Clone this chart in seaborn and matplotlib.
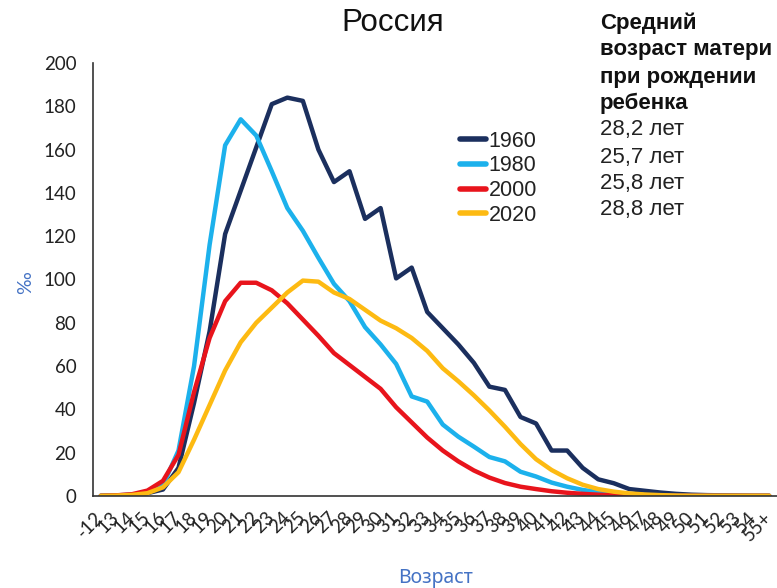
import numpy as np
import pandas as pd
import matplotlib
matplotlib.use("Agg")
import matplotlib.pyplot as plt
import seaborn as sns

# ---- data ----
age_labels = ["-12"] + [str(a) for a in range(13, 55)] + ["55+"]

v1960 = [0.1, 0.3, 0.6, 1.3, 3, 13, 43, 76, 121, 141, 161, 181, 184, 182.5, 160, 145,
         150, 128, 133, 100.5, 105.5, 85, 77.5, 70, 61.5, 50.5, 49, 36.5, 33.5, 21, 21,
         13, 7.7, 5.9, 3.2, 2.4, 1.6, 1.0, 0.6, 0.4, 0.3, 0.2, 0.1, 0.1]
v1980 = [0.1, 0.2, 0.5, 1.5, 5, 21, 60, 116, 162, 174, 166.5, 150, 133, 122.5, 110, 98,
         90, 78, 70, 61, 46, 43.6, 33, 27.4, 22.8, 18, 16, 11.2, 9, 6.2, 4.3, 2.8, 1.8,
         1.0, 0.6, 0.4, 0.2, 0.1, 0.1, 0.1, 0.1, 0.1, 0.1, 0.1]
v2000 = [0.1, 0.3, 0.8, 2.5, 7, 19, 48, 73, 90, 98.5, 98.5, 95, 89, 81.5, 74, 66, 60.5,
         55, 49.5, 41, 34, 27, 21, 16, 11.8, 8.5, 6, 4.3, 3.2, 2.2, 1.5, 1.0, 0.6, 0.4,
         0.2, 0.1, 0.1, 0.1, 0.1, 0.1, 0.1, 0.1, 0.1, 0.1]
v2020 = [0.1, 0.2, 0.5, 1.3, 4, 11, 26, 42, 58, 71, 80, 87, 94, 99.5, 99, 94, 91, 86,
         81, 77.5, 73, 67, 59, 53, 46.5, 39.5, 32, 24, 17, 12, 8.2, 5.2, 3.2, 2, 1.2,
         0.7, 0.4, 0.2, 0.1, 0.1, 0.1, 0.1, 0.1, 0.1]
years = ["1960", "1980", "2000", "2020"]
mean_age = ["28,2 лет", "25,7 лет", "25,8 лет", "28,8 лет"]
yticks = list(range(0, 201, 20))

colors = {"1960": "#1B2F5E", "1980": "#1CB1EC", "2000": "#E8141C", "2020": "#FDBA12"}

rows = []
for yr, vals in zip(years, [v1960, v1980, v2000, v2020]):
    for i, v in enumerate(vals):
        rows.append({"idx": i, "val": v, "year": yr})
df = pd.DataFrame(rows)

sns.set_theme(style="white")
plt.rcParams["font.family"] = ["Liberation Sans", "DejaVu Sans"]

fig = plt.figure(figsize=(7.77, 5.88), dpi=100)
ax = fig.add_axes([93 / 777, 1 - 496 / 588, (777 - 93) / 777, (496 - 63) / 588])

sns.lineplot(data=df, x="idx", y="val", hue="year", palette=colors, linewidth=3.2,
             ax=ax, legend=True)

ax.set_xlim(-0.5, len(age_labels) - 0.5)
ax.set_ylim(0, 200)
ax.set_yticks(yticks)
ax.set_yticklabels([str(t) for t in yticks], fontsize=13.5, family=["Lato", "DejaVu Sans"],
                   color="#222222")
ax.set_xticks(range(len(age_labels)))
ax.set_xticklabels(age_labels, rotation=45, ha="right", va="center", rotation_mode="anchor",
                   fontsize=13.5, family=["Lato", "DejaVu Sans"], color="#222222")
ax.tick_params(axis="x", length=0, pad=13.5)
ax.tick_params(axis="y", length=0, pad=12)
for s in ["top", "right"]:
    ax.spines[s].set_visible(False)
for s in ["left", "bottom"]:
    ax.spines[s].set_color("#333333")
    ax.spines[s].set_linewidth(1.2)

ax.set_xlabel("")
ax.set_ylabel("")
fig.text(26 / 777, 1 - 283 / 588, "‰", rotation=90, ha="center", va="center",
         fontsize=14, color="#4472C4", family=["Lato", "DejaVu Sans"])
fig.text(435 / 777, 1 - 578 / 588, "Возраст", ha="center", va="center",
         fontsize=14, color="#4472C4", family=["Noto Sans", "DejaVu Sans"])

fig.text(393 / 777, 1 - 23 / 588, "Россия", ha="center", va="center", fontsize=22.5,
         color="#111111")

leg = ax.legend(loc="upper left", bbox_to_anchor=(449 / 777, 1 - 120 / 588),
                bbox_transform=fig.transFigure, frameon=False, fontsize=15.5,
                handlelength=1.2, handletextpad=0.15, labelspacing=0.17, borderpad=0)
for line in leg.get_lines():
    line.set_linewidth(4)
for t in leg.get_texts():
    t.set_color("#222222")

header = ["Средний", "возраст матери", "при рождении", "ребенка"]
ys = [23, 50, 77, 103]
for txt, y in zip(header, ys):
    fig.text(600 / 777, 1 - y / 588, txt, ha="left", va="center", fontsize=16,
             fontweight="bold", color="#111111")
for txt, y in zip(mean_age, [130, 157, 183, 209]):
    fig.text(600 / 777, 1 - y / 588, txt, ha="left", va="center", fontsize=16,
             color="#222222")

fig.savefig("out.png", dpi=100)
